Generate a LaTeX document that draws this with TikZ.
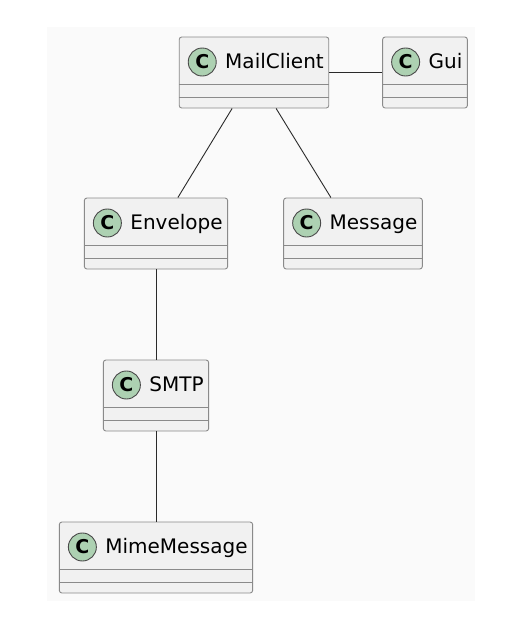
\documentclass[tikz,border=0pt]{standalone}
\usepackage{fontspec}
\setmainfont{DejaVu Sans}

\definecolor{boxfill}{HTML}{F1F1F1}
\definecolor{boxline}{HTML}{8A8A8A}
\definecolor{circfill}{HTML}{ADD1B2}
\definecolor{circline}{HTML}{4A4A4A}
\definecolor{edgeline}{HTML}{2A2A2A}
\definecolor{pagefill}{HTML}{FAFAFA}

\newcommand{\clsname}[1]{\hspace*{41pt}#1}

\tikzset{
  classbox/.style={draw=boxline, fill=boxfill, rounded corners=2.5pt, line width=0.9pt,
    minimum height=71pt, inner sep=0pt, inner xsep=5pt, text height=31pt, text depth=40pt,
    font=\fontsize{20}{24}\selectfont,
    path picture={
      \draw[boxline, line width=0.9pt]
        ([yshift=24pt]path picture bounding box.south west) -- ([yshift=24pt]path picture bounding box.south east)
        ([yshift=11pt]path picture bounding box.south west) -- ([yshift=11pt]path picture bounding box.south east);
      \draw[circline, fill=circfill, line width=0.9pt] ([xshift=23pt,yshift=-25pt]path picture bounding box.north west) circle (14pt);
      \node[inner sep=0pt, text height=, text depth=, font=\fontsize{19}{22}\selectfont\bfseries]
        at ([xshift=23pt,yshift=-25pt]path picture bounding box.north west) {C};
    }},
  link/.style={draw=edgeline, line width=0.9pt},
}

\begin{document}
\begin{tikzpicture}[x=1pt, y=1pt]
                \useasboundingbox (0,0) rectangle (526,-633);
                \fill[pagefill] (47,-27) rectangle (475,-601);

                \node[classbox] (mailclient) at (254,-72.5) {\clsname{MailClient}};
                \node[classbox] (gui) at (425,-72.5) {\clsname{Gui}};
                \node[classbox] (envelope) at (156,-233.5) {\clsname{Envelope}};
                \node[classbox] (message) at (353,-233.5) {\clsname{Message}};
                \node[classbox] (smtp) at (156,-395.5) {\clsname{SMTP}};
                \node[classbox] (mimemessage) at (156,-557.5) {\clsname{MimeMessage}};

                \draw[link] (mailclient) -- (gui);
                \draw[link] (mailclient) -- (envelope);
                \draw[link] (mailclient) -- (message);
                \draw[link] (envelope) -- (smtp);
                \draw[link] (smtp) -- (mimemessage);
            \end{tikzpicture}
\end{document}
